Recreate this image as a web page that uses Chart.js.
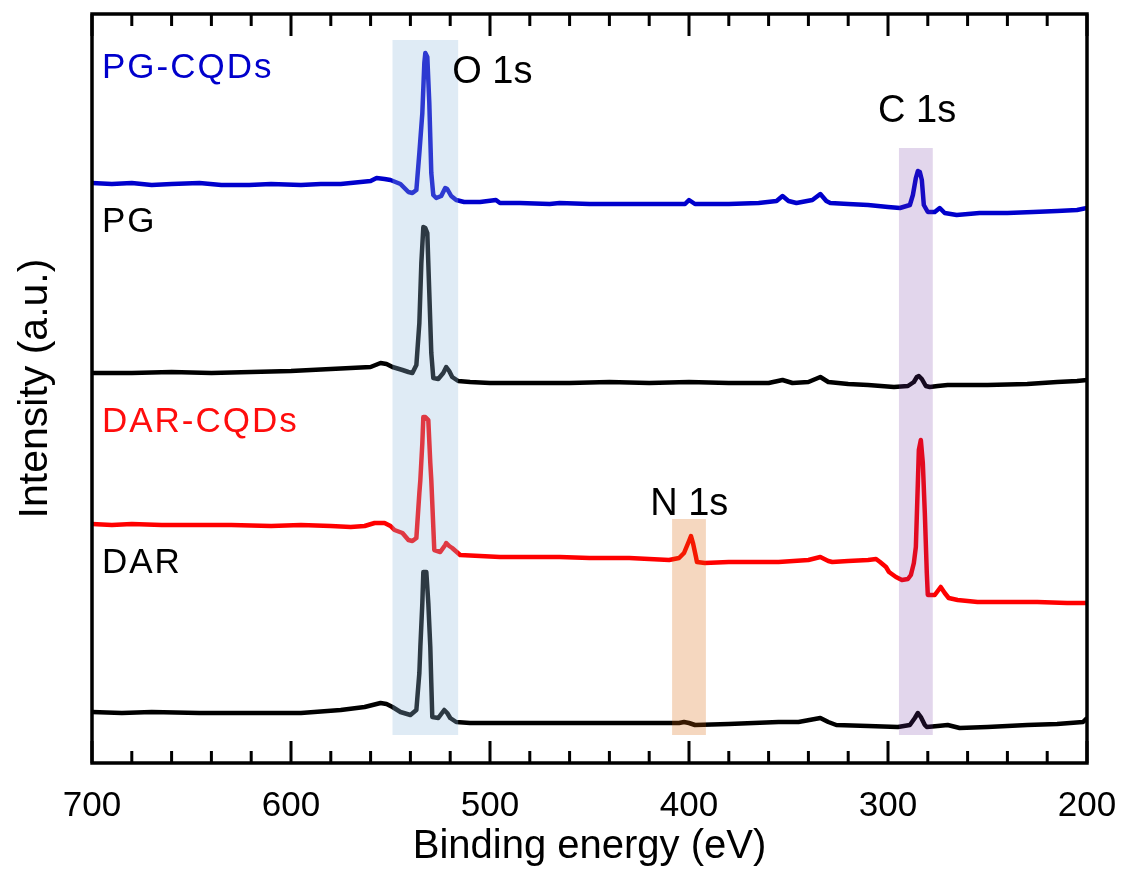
<!DOCTYPE html>
<html>
<head>
<meta charset="utf-8">
<title>XPS survey</title>
<script src="https://cdn.jsdelivr.net/npm/chart.js@4.4.1/dist/chart.umd.min.js"></script>
<style>
    body { margin: 0; background: #fff; }
    #box { width: 1127px; height: 883px; }
</style>
</head>
<body onload="init()">
<div id="box"><canvas id="myChart"></canvas></div>
<script>
// x ticks (binding energy, eV)
let xTickLabels = [700, 600, 500, 400, 300, 200];

// PG-CQDs (blue, top trace)
let pgCqdsEnergy = [700, 690, 680, 670, 660, 646, 635, 621, 610, 595, 585, 575, 565, 560, 557, 553, 550, 545, 541, 539, 537, 535.5, 534, 533, 532.5, 531.5, 530.5, 529.5, 528.5, 527, 524.5, 522.5, 521.5, 519.5, 517, 513, 505, 497, 495, 485, 470, 465, 450, 430, 410, 402, 400, 397, 380, 365, 356, 353, 350, 346, 338, 334, 331, 329, 320, 310, 300, 294, 289, 287.5, 286, 285, 284, 283, 282, 280, 276.5, 274, 271.5, 265.5, 254, 240, 227, 215, 205, 200];
let pgCqdsIntensity = [580, 579, 580, 578, 579, 580, 578, 578, 579, 578, 579, 579, 581, 582, 585, 584, 583, 579, 571, 570, 573, 610, 650, 700, 710, 706, 660, 590, 568, 565, 567, 575, 574, 567, 563, 561, 561, 563, 560, 560, 559, 560, 559, 559, 559, 559, 563, 559, 559, 560, 562, 567, 562, 560, 563, 569, 562, 560, 559, 558, 556, 555, 558, 568, 585, 592, 591, 583, 558, 551, 551, 555, 550, 548, 550, 550, 551, 552, 553, 555];

// PG (black, second trace)
let pgEnergy = [700, 680, 660, 640, 620, 600, 580, 570, 560, 555, 552, 549, 544, 541, 539, 537, 535.5, 534.5, 533.5, 532.5, 531.5, 530.5, 529.5, 528.5, 526, 523.5, 522, 520.5, 519, 516, 510, 500, 480, 460, 440, 420, 400, 380, 360, 353, 348, 340, 334, 330, 320, 310, 297, 290, 287, 285.5, 284.5, 283, 281, 279, 275, 270, 264, 250, 230, 215, 205, 200];
let pgIntensity = [390, 390, 391, 390, 391, 392, 394, 395, 396, 400, 399, 396, 393, 391, 390, 398, 440, 500, 536, 535, 530, 470, 410, 385, 384, 390, 396, 392, 386, 382, 381, 380, 380, 380, 381, 380, 381, 380, 380, 383, 380, 381, 386, 381, 379, 378, 376, 377, 381, 386, 387, 384, 377, 376, 377, 378, 378, 378, 379, 381, 382, 383];

// DAR-CQDs (red, third trace)
let darCqdsEnergy = [700, 690, 680, 665, 646, 630, 610, 595, 580, 570, 563, 558, 553, 550, 548, 544, 541, 539, 537, 535.5, 535, 534, 533.5, 532.5, 531, 530, 529.5, 528, 525, 522.5, 522, 520.5, 519, 515, 505, 495, 480, 465, 450, 430, 410, 405, 402.5, 400, 399, 398, 396.5, 396, 392, 380, 370, 355, 340, 334, 330, 328, 320, 310, 306, 304, 301, 299.5, 296, 293, 290, 288.5, 287, 286, 285, 284.5, 283.5, 282.5, 281.5, 280.5, 280, 276.5, 273.5, 271.5, 269.5, 265, 255, 240, 225, 210, 200];
let darCqdsIntensity = [239, 238, 239, 238, 238, 238, 237, 238, 237, 236, 237, 240, 240, 237, 233, 230, 223, 222, 225, 270, 283, 320, 346, 346, 343, 300, 283, 213, 211, 218, 220, 217, 215, 208, 207, 206, 206, 206, 205, 205, 203, 205, 210, 222, 227, 220, 206, 201, 200, 201, 201, 201, 203, 206, 202, 201, 202, 203, 204, 201, 196, 191, 186, 183, 184, 188, 200, 216, 280, 313, 323, 300, 250, 190, 168, 168, 176, 170, 165, 163, 161, 161, 161, 160, 160];

// DAR (black, bottom trace)
let darEnergy = [700, 685, 670, 646, 620, 595, 575, 563, 555, 552, 549, 545, 540, 537, 535.5, 535, 534, 533.5, 532, 531, 530, 529.5, 529, 526, 523, 521.5, 520, 517, 510, 500, 480, 465, 440, 420, 405, 402.5, 400, 397, 380, 355, 345, 334, 330, 326, 310, 295, 289, 286.5, 285, 283.5, 281.5, 280.5, 275, 270, 264, 250, 230, 215, 202, 200];
let darIntensity = [51, 50, 51, 50, 50, 50, 53, 56, 60, 59, 56, 51, 48, 53, 90, 116, 160, 191, 191, 160, 116, 80, 46, 45, 53, 50, 45, 41, 40, 40, 40, 40, 40, 40, 40, 41, 40, 38, 39, 41, 41, 45, 41, 38, 37, 36, 38, 45, 50, 46, 38, 36, 37, 38, 35, 36, 38, 39, 41, 45];

// shaded peak regions
let bandNames = ['O 1s', 'N 1s', 'C 1s'];
let bandFrom = [549, 408.5, 294.5];
let bandTo = [516, 391.5, 277.5];
let bandTop = [723, 244, 615];
let bandBottom = [28, 28, 28];

let sampleNames = ['PG-CQDs', 'PG', 'DAR-CQDs', 'DAR'];

let myChart;
const FONT = "'Liberation Sans', Arial, Helvetica, sans-serif";

// where the text labels sit (energy, intensity of baseline)
const peakLabelPos = [[519, 680], [419.5, 248], [305, 641]];
const sampleLabelPos = [[695, 685], [695, 531], [695, 331], [695, 190]];
const sampleColors = ['#0000cc', '#000000', '#ff0d0d', '#000000'];
const bandColors = ['rgba(150,188,222,0.3)', 'rgba(216,96,0,0.25)', 'rgba(110,50,160,0.2)'];

function pairs(xs, ys) {
    let out = [];
    for (let i = 0; i < xs.length; i++) {
        out.push({ x: xs[i], y: ys[i] });
    }
    return out;
}

function trace(label, xs, ys, color) {
    return {
        label: label,
        data: pairs(xs, ys),
        borderColor: color,
        backgroundColor: color,
        borderWidth: 4.5,
        borderJoinStyle: 'round',
        pointRadius: 0,
        tension: 0,
        fill: false,
    };
}

const framePlugin = {
    id: 'framePlugin',
    afterDatasetsDraw(chart) {
        const ctx = chart.ctx;
        const a = chart.chartArea;
        const x = chart.scales.x;
        const y = chart.scales.y;
        ctx.save();

        // bands go over the lines (they tint them)
        for (let i = 0; i < bandNames.length; i++) {
            let x1 = x.getPixelForValue(bandFrom[i]);
            let x2 = x.getPixelForValue(bandTo[i]);
            let y1 = y.getPixelForValue(bandTop[i]);
            let y2 = y.getPixelForValue(bandBottom[i]);
            ctx.fillStyle = bandColors[i];
            ctx.fillRect(Math.min(x1, x2), y1, Math.abs(x2 - x1), y2 - y1);
        }

        // frame
        ctx.strokeStyle = '#000';
        ctx.lineWidth = 3.5;
        ctx.strokeRect(a.left, a.top, a.right - a.left, a.bottom - a.top);

        // inward ticks, top and bottom
        ctx.lineWidth = 3;
        for (let v = 200; v <= 700; v += 20) {
            let px = x.getPixelForValue(v);
            let len = (v % 100 === 0) ? 22 : 12;
            ctx.beginPath();
            ctx.moveTo(px, a.bottom);
            ctx.lineTo(px, a.bottom - len);
            ctx.moveTo(px, a.top);
            ctx.lineTo(px, a.top + len);
            ctx.stroke();
        }

        // labels
        ctx.font = '38px ' + FONT;
        ctx.textBaseline = 'alphabetic';
        ctx.textAlign = 'left';
        ctx.fillStyle = '#000';
        for (let i = 0; i < bandNames.length; i++) {
            ctx.fillText(bandNames[i], x.getPixelForValue(peakLabelPos[i][0]), y.getPixelForValue(peakLabelPos[i][1]));
        }
        ctx.font = '35px ' + FONT;
        ctx.letterSpacing = '2px';
        for (let i = 0; i < sampleNames.length; i++) {
            ctx.fillStyle = sampleColors[i];
            ctx.fillText(sampleNames[i], x.getPixelForValue(sampleLabelPos[i][0]), y.getPixelForValue(sampleLabelPos[i][1]));
        }
        ctx.restore();
    }
};

const config = {
    type: 'line',
    data: {
        datasets: [
            trace('PG-CQDs', pgCqdsEnergy, pgCqdsIntensity, '#0000cc'),
            trace('PG', pgEnergy, pgIntensity, '#000000'),
            trace('DAR-CQDs', darCqdsEnergy, darCqdsIntensity, '#ff0000'),
            trace('DAR', darEnergy, darIntensity, '#000000'),
        ]
    },
    options: {
        responsive: true,
        maintainAspectRatio: false,
        animation: false,
        layout: { padding: { top: 14, right: 40, left: 0, bottom: 0 } },
        plugins: {
            legend: { display: false },
            tooltip: { enabled: false },
        },
        scales: {
            x: {
                type: 'linear',
                min: 200,
                max: 700,
                reverse: true,
                afterBuildTicks(scale) {
                    scale.ticks = xTickLabels.map(v => ({ value: v }));
                },
                ticks: {
                    color: '#000',
                    font: { size: 35, family: FONT },
                    padding: 0,
                    maxRotation: 0,
                    autoSkip: false,
                },
                // grid hidden, tick length only used to push labels down
                grid: { display: false, drawTicks: true, tickLength: 22 },
                border: { display: false },
                title: {
                    display: true,
                    text: 'Binding energy (eV)',
                    color: '#000',
                    font: { size: 40, family: FONT },
                    padding: { top: 0, bottom: 12 },
                },
                afterFit(scale) { scale.height = 120; },
            },
            y: {
                type: 'linear',
                min: 0,
                max: 749,
                ticks: { display: false },
                grid: { display: false, drawTicks: false },
                border: { display: false },
                title: {
                    display: true,
                    text: 'Intensity (a.u.)',
                    color: '#000',
                    font: { size: 41, family: FONT },
                    padding: { top: 11, bottom: 0 },
                },
                afterFit(scale) { scale.width = 92; },
            },
        },
    },
    plugins: [framePlugin],
};

function init() {
    myChart = new Chart(
        document.getElementById('myChart'),
        config
    );
}
</script>
</body>
</html>
